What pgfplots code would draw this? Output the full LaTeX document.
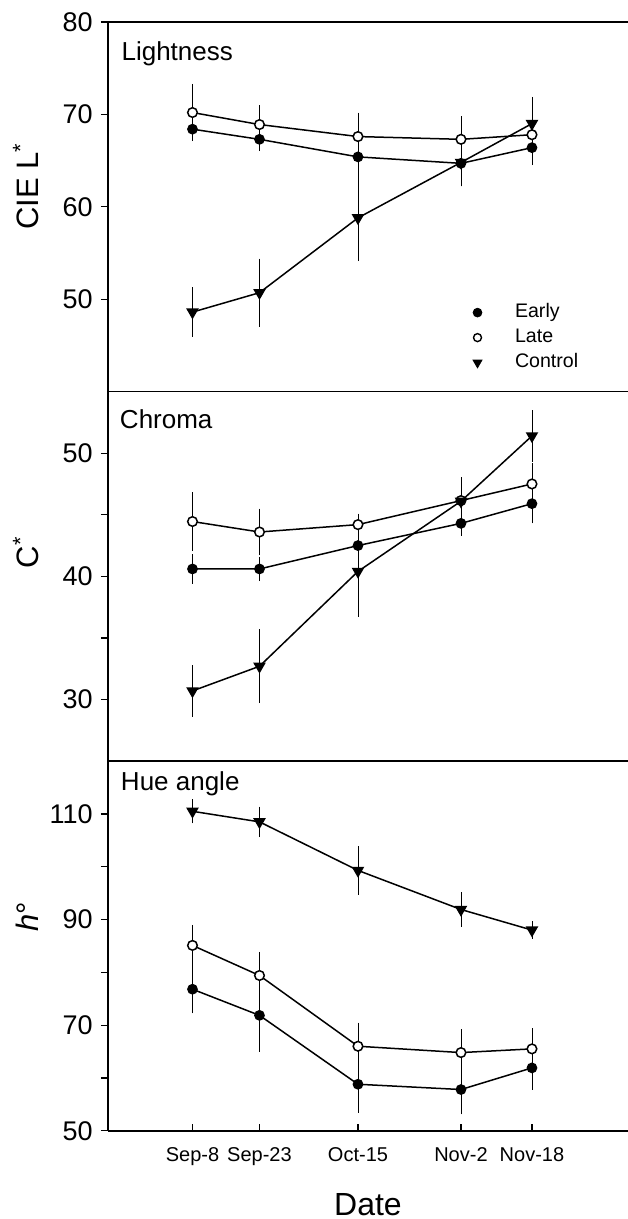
\documentclass[border=0pt]{standalone}
\usepackage{pgfplots}
\pgfplotsset{compat=1.18}
\usepgfplotslibrary{groupplots}
\usepackage{fontspec}
\setmainfont{Liberation Sans}

\tikzset{ptitle/.style={anchor=base west, inner sep=0pt, font=\fontsize{13}{14}\selectfont}}

\pgfplotsset{
  panel/.style={
    scale only axis, width=260pt, height=184.8pt,
    xmin=0, xmax=520,
    axis x line*=box, axis y line*=left,
    axis line style={line width=0.8pt},
    ytick pos=left, ytick align=outside,
    xtick align=inside,
    major tick length=3.5pt, minor tick length=3.5pt,
    tick style={line width=0.6pt, black},
    yticklabel style={font=\fontsize{13.5}{14}\selectfont, anchor=east, inner sep=0pt, xshift=-4pt},
    xticklabel style={font=\fontsize{10}{11}\selectfont, anchor=north, inner sep=0pt, yshift=-8pt},
    /pgf/number format/assume math mode=true,
    every axis y label/.style={at={(axis description cs:-0.158,0.5)}, rotate=90, anchor=center,
      font=\fontsize{15.5}{16}\selectfont},
    every axis x label/.style={at={(axis description cs:0.5,0)}, anchor=base,
      yshift=-42.15pt, font=\fontsize{16}{17}\selectfont},
  },
  ser/.style={black, line width=0.75pt,
    /pgfplots/error bars/y dir=both, /pgfplots/error bars/y explicit,
    /pgfplots/error bars/error bar style={line width=0.4pt},
    /pgfplots/error bars/error mark options={mark size=1.8pt, line width=0.4pt, black}},
  early/.style={ser, mark=*, mark size=2.3pt},
  late/.style={ser, mark=*, mark size=2.4pt, mark options={fill=white, line width=0.75pt}},
  ctrl/.style={ser, mark=triangle*, mark size=2.9pt, mark options={rotate=180}},
}

\begin{document}
\begin{tikzpicture}
\begin{groupplot}[
  group style={group name=G, group size=1 by 3, vertical sep=0pt},
  panel]

% Lightness
\nextgroupplot[ymin=40, ymax=80, ytick={50,60,70,80}, xtick=\empty,
  ylabel={CIE L\textsuperscript{*}},
  every axis y label/.append style={at={(axis description cs:-0.158,0.555)}},
  legend style={draw=none, fill=none, inner sep=0pt, outer sep=0pt,
    at={(axis description cs:0.702,0.146)}, anchor=west,
    font=\fontsize{9.8}{11}\selectfont, row sep=0.5pt, column sep=15pt,
    nodes={text height=7pt, text depth=2pt, inner sep=1.5pt}},
  legend cell align=left]
\addplot[early, forget plot] coordinates {
  (84.5,68.4) +- (0,0.8) (151.5,67.3) +- (0,0.9) (250,65.4) +- (0,1.6)
  (353,64.7) +- (0,2.1) (424,66.4) +- (0,1.5)};
\addplot[late, forget plot] coordinates {
  (84.5,70.2) +- (0,2.7) (151.5,68.9) +- (0,1.7) (250,67.6) +- (0,2.2)
  (353,67.3) +- (0,2.1) (424,67.8) +- (0,1.5)};
\addplot[ctrl, forget plot] coordinates {
  (84.5,48.6) +- (0,2.3) (151.5,50.7) +- (0,3.3) (250,58.8) +- (0,4.3)
  (353,64.8) +- (0,2.2) (424,69.0) +- (0,2.5)};
\addlegendimage{only marks, black, mark=*, mark size=2.2pt}
\addlegendentry{Early}
\addlegendimage{only marks, black, mark=o, mark size=2pt, mark options={line width=0.7pt}}
\addlegendentry{Late}
\addlegendimage{only marks, black, mark=triangle*, mark size=2.6pt, mark options={rotate=180}}
\addlegendentry{Control}
\node[ptitle] at (rel axis cs:0,1) [xshift=6.6pt, yshift=-19.5pt] {Lightness};

% Chroma
\nextgroupplot[ymin=25, ymax=55, ytick={30,40,50}, minor ytick={35,45}, xtick=\empty,
  ylabel={C\textsuperscript{*}},
  every axis y label/.append style={at={(axis description cs:-0.158,0.565)}}]
\addplot[early] coordinates {
  (84.5,40.6) +- (0,0.9) (151.5,40.6) +- (0,0.7) (250,42.5) +- (0,0.8)
  (353,44.3) +- (0,0.7) (424,45.9) +- (0,1.3)};
\addplot[late] coordinates {
  (84.5,44.45) +- (0,2.1) (151.5,43.6) +- (0,1.6) (250,44.2) +- (0,0.6)
  (353,46.15) +- (0,1.6) (424,47.5) +- (0,1.4)};
\addplot[ctrl] coordinates {
  (84.5,30.7) +- (0,1.8) (151.5,32.7) +- (0,2.7) (250,40.4) +- (0,3.4)
  (353,46.1) +- (0,1.2) (424,51.4) +- (0,1.8)};
\node[ptitle] at (rel axis cs:0,1) [xshift=5.8pt, yshift=-18.3pt] {Chroma};

% Hue angle
\nextgroupplot[ymin=50, ymax=120, ytick={50,70,90,110}, minor ytick={60,80,100},
  xtick={84.5,151.5,250,353,424},
  xticklabels={Sep-8,Sep-23,Oct-15,Nov-2,Nov-18},
  xtick pos=left,
  xlabel={Date},
  ylabel={\textit{h}°},
  every axis y label/.append style={at={(axis description cs:-0.155,0.579)}}]
\addplot[early] coordinates {
  (84.5,76.8) +- (0,3.9) (151.5,71.85) +- (0,6.2) (250,58.8) +- (0,4.7)
  (353,57.8) +- (0,4.0) (424,61.9) +- (0,3.5)};
\addplot[late] coordinates {
  (84.5,85.1) +- (0,3.2) (151.5,79.4) +- (0,3.8) (250,66.0) +- (0,3.8)
  (353,64.8) +- (0,3.7) (424,65.5) +- (0,3.2)};
\addplot[ctrl] coordinates {
  (84.5,110.5) +- (0,1.6) (151.5,108.5) +- (0,2.2) (250,99.3) +- (0,3.9)
  (353,91.9) +- (0,2.6) (424,88.0) +- (0,1.0)};
\node[ptitle] at (rel axis cs:0,1) [xshift=6.3pt, yshift=-14.9pt] {Hue angle};
\end{groupplot}
\pgfresetboundingbox
\path[use as bounding box] ([xshift=-54pt, yshift=-44.15pt]G c1r3.south west)
  rectangle ([yshift=11pt]G c1r1.north east);
\end{tikzpicture}
\end{document}
